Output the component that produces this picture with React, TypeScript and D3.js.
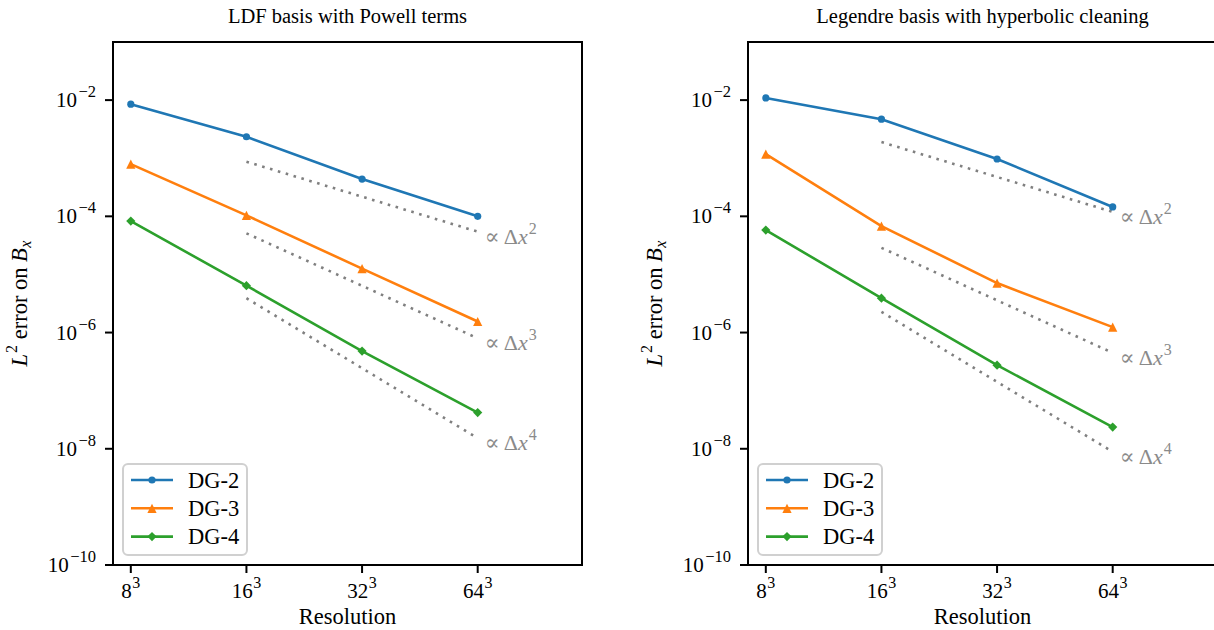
import React from "react";
import * as d3 from "d3";

const resolutions = [8, 16, 32, 64];
const resTickLabels = ["8", "16", "32", "64"];
const yTickValues = [1e-2, 1e-4, 1e-6, 1e-8, 1e-10];
const yTickExps = ["−2", "−4", "−6", "−8", "−10"];
const seriesNames = ["DG-2", "DG-3", "DG-4"];
const seriesColors = ["#1f77b4", "#ff7f0e", "#2ca02c"];
const seriesMarkers = ["circle", "triangle", "diamond"];

const ldfDG2 = [8.5e-3, 2.34e-3, 4.38e-4, 1.0e-4];
const ldfDG3 = [7.9e-4, 1.04e-4, 1.26e-5, 1.55e-6];
const ldfDG4 = [8.3e-5, 6.4e-6, 4.8e-7, 4.2e-8];

const legDG2 = [1.09e-2, 4.7e-3, 9.7e-4, 1.45e-4];
const legDG3 = [1.18e-3, 6.8e-5, 7.1e-6, 1.24e-6];
const legDG4 = [5.8e-5, 3.9e-6, 2.75e-7, 2.36e-8];

const refResolutions = [16, 64];
const refOrders = ["2", "3", "4"];
const ldfRef2 = [8.71e-4, 5.45e-5];
const ldfRef3 = [5.1e-5, 7.97e-7];
const ldfRef4 = [3.9e-6, 1.52e-8];
const legRef2 = [1.9e-3, 1.19e-4];
const legRef3 = [2.87e-5, 4.48e-7];
const legRef4 = [2.27e-6, 8.87e-9];

const titles = ["LDF basis with Powell terms", "Legendre basis with hyperbolic cleaning"];

const panels = [
  { title: titles[0], series: [ldfDG2, ldfDG3, ldfDG4], refs: [ldfRef2, ldfRef3, ldfRef4] },
  { title: titles[1], series: [legDG2, legDG3, legDG4], refs: [legRef2, legRef3, legRef4] },
];

const SERIF = "Liberation Serif, Tinos, Times New Roman, DejaVu Serif, serif";

function Marker({ kind, x, y, color }: { kind: string; x: number; y: number; color: string }) {
  if (kind === "circle") return <circle cx={x} cy={y} r={3.6} fill={color} />;
  if (kind === "triangle") {
    const h = 4.6;
    return <path d={`M${x},${y - h}L${x + h},${y + h}L${x - h},${y + h}Z`} fill={color} />;
  }
  const h = 4.6;
  return <path d={`M${x},${y - h}L${x + h},${y}L${x},${y + h}L${x - h},${y}Z`} fill={color} />;
}

function Panel({ panel, offsetX }: { panel: any; offsetX: number }) {
  const left = 113, right = 582, top = 42, bottom = 565;
  const x = d3.scaleLog().base(2).domain([7.19, 119.6]).range([left, right]);
  const y = d3.scaleLog().domain([1e-10, 1e-1]).range([bottom, top]);
  const line = d3
    .line<number>()
    .x((_, i) => x(resolutions[i]))
    .y((d) => y(d));
  const refLine = d3
    .line<number>()
    .x((_, i) => x(refResolutions[i]))
    .y((d) => y(d));
  const cx = (left + right) / 2;
  const cy = (top + bottom) / 2;
  return (
    <g transform={`translate(${offsetX},0)`} style={{ fontFamily: SERIF }}>
      <text x={cx} y={23} textAnchor="middle" fontSize={20.5} fill="#000">
        {panel.title}
      </text>
      {panel.refs.map((r: number[], k: number) => (
        <g key={"ref" + k}>
          <path d={refLine(r) || ""} fill="none" stroke="#808080" strokeWidth={2.6} strokeDasharray="2.6 5.6" />
          <text x={x(refResolutions[1]) + 7} y={y(r[1]) + 12} fontSize={22} fill="#8a8a8a">
            ∝ Δ<tspan fontStyle="italic">x</tspan>
            <tspan fontSize={16} dy={-10} dx={1}>
              {refOrders[k]}
            </tspan>
          </text>
        </g>
      ))}
      {panel.series.map((s: number[], k: number) => (
        <g key={"s" + k}>
          <path d={line(s) || ""} fill="none" stroke={seriesColors[k]} strokeWidth={2.6} />
          {s.map((v, i) => (
            <Marker key={i} kind={seriesMarkers[k]} x={x(resolutions[i])} y={y(v)} color={seriesColors[k]} />
          ))}
        </g>
      ))}
      <rect x={left} y={top} width={right - left} height={bottom - top} fill="none" stroke="#000" strokeWidth={2} />
      {resolutions.map((r, i) => (
        <g key={"xt" + i}>
          <line x1={x(r)} x2={x(r)} y1={bottom} y2={bottom + 8} stroke="#000" strokeWidth={2} />
          <text x={x(r)} y={598} textAnchor="middle" fontSize={21} fill="#000">
            {resTickLabels[i]}
            <tspan fontSize={16} dy={-10} dx={0.5}>
              3
            </tspan>
          </text>
        </g>
      ))}
      <text x={cx} y={624} textAnchor="middle" fontSize={22.5} fill="#000">
        Resolution
      </text>
      {yTickValues.map((v, i) => (
        <g key={"yt" + i}>
          <line x1={left - 8} x2={left} y1={y(v)} y2={y(v)} stroke="#000" strokeWidth={2} />
          <text x={96} y={y(v) + 7} textAnchor="end" fontSize={21} fill="#000">
            10
            <tspan fontSize={16.5} dy={-10} dx={1.5}>
              {yTickExps[i]}
            </tspan>
          </text>
        </g>
      ))}
      <text transform={`translate(27,${cy}) rotate(-90)`} textAnchor="middle" fontSize={22.5} fill="#000">
        <tspan fontStyle="italic">L</tspan>
        <tspan fontSize={16} dy={-10} dx={1}>
          2
        </tspan>
        <tspan dy={10}> error on </tspan>
        <tspan fontStyle="italic">B</tspan>
        <tspan fontStyle="italic" fontSize={16} dy={4} dx={0.5}>
          x
        </tspan>
      </text>
      <rect x={123} y={464} width={124} height={91} rx={5} fill="#fff" fillOpacity={0.8} stroke="#d0d0d0" strokeWidth={2} />
      {seriesNames.map((n, k) => {
        const ry = 480 + k * 28.3;
        return (
          <g key={"lg" + k}>
            <line x1={131} x2={173} y1={ry} y2={ry} stroke={seriesColors[k]} strokeWidth={2.6} />
            <Marker kind={seriesMarkers[k]} x={152} y={ry} color={seriesColors[k]} />
            <text x={188} y={ry + 7.5} fontSize={22.5} fill="#000">
              {n}
            </text>
          </g>
        );
      })}
    </g>
  );
}

export default function App() {
  return (
    <svg
      width={1214}
      height={630}
      style={{ position: "absolute", left: 0, top: 0, background: "#fff" }}
      xmlns="http://www.w3.org/2000/svg"
    >
      <rect width={1214} height={630} fill="#fff" />
      {panels.map((p, i) => (
        <Panel key={i} panel={p} offsetX={i * 635} />
      ))}
    </svg>
  );
}
